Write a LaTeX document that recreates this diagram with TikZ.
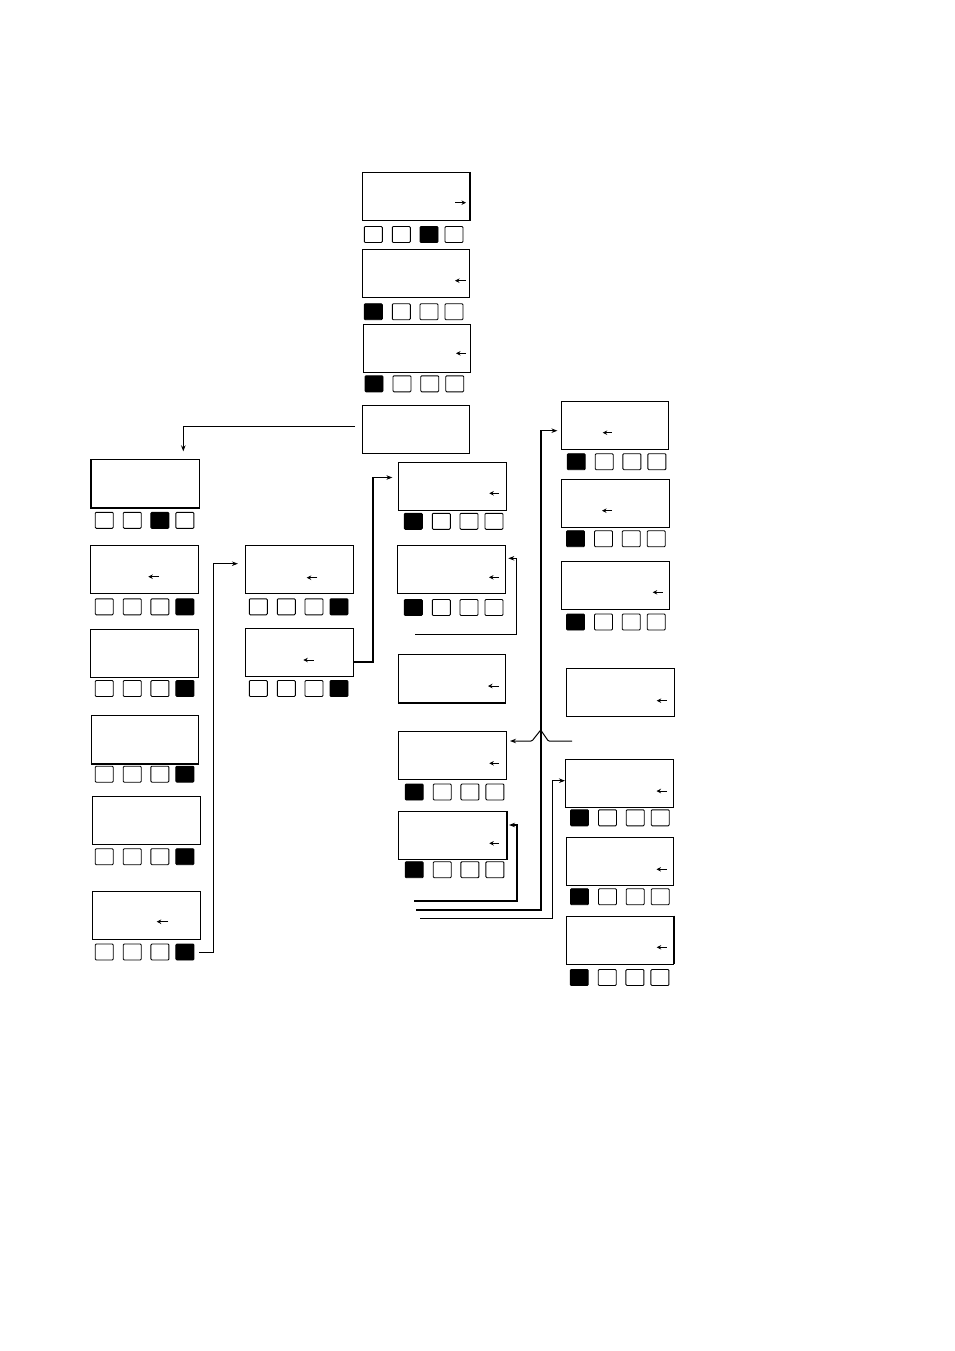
\documentclass[tikz,border=0pt]{standalone}
\usepackage{tikz}
\usetikzlibrary{arrows.meta}

\tikzset{
  screen/.style={draw,line width=0.9pt,minimum width=107.5pt,minimum height=48pt,inner sep=0pt},
  key/.style={draw,line width=0.9pt,rounded corners=1pt,minimum width=18pt,minimum height=16pt,inner sep=0pt},
  keyon/.style={key,fill=black},
  conn/.style={line width=1pt,-{Stealth[length=6pt,width=4.5pt]}},
  cursor/.style={line width=1pt,-{Stealth[length=4.5pt,width=4.5pt]}},
  heavy/.style={line width=1.8pt}
}
% row of four keys, #4 is the lit one
\newcommand{\keyrow}[4]{%
  \foreach \dx [count=\k] in {0,28,55.7,80.7}{
    \ifnum\k=#4 \node[keyon] (#1-\k) at ({#2+\dx},#3) {};
    \else \node[key] (#1-\k) at ({#2+\dx},#3) {};\fi
  }}

\begin{document}
\begin{tikzpicture}[x=1pt,y=-1pt,>=stealth]
  \useasboundingbox (0,0) rectangle (954,1351);

  % top column
  \node[screen] (a) at (416,196.3) {};
  \keyrow{a}{373.3}{234.5}{3}
  \draw[cursor] (455,202.7) -- (466,202.7);
  \node[screen] (b) at (416,273.9) {};
  \keyrow{b}{373.3}{311.7}{1}
  \draw[cursor] (466,280.7) -- (455,280.7);
  \node[screen] (c) at (417,348) {};
  \keyrow{c}{374}{383.8}{1}
  \draw[cursor] (466,353.3) -- (456,353.3);
  \node[screen] (d) at (416,429) {};

  % left column
  \node[screen] (l1) at (145.5,483.8) {};
  \keyrow{l1}{104.2}{520.3}{3}
  \node[screen] (l2) at (144.5,569.3) {};
  \keyrow{l2}{104.2}{606.8}{4}
  \draw[cursor] (159,576.7) -- (148.3,576.7);
  \node[screen] (l3) at (144.5,653) {};
  \keyrow{l3}{104.2}{688.5}{4}
  \node[screen] (l4) at (145,739.2) {};
  \keyrow{l4}{104.2}{774.2}{4}
  \node[screen] (l5) at (146.2,820.5) {};
  \keyrow{l5}{104.2}{856.7}{4}
  \node[screen] (l6) at (146.2,915.5) {};
  \keyrow{l6}{104.2}{952}{4}
  \draw[cursor] (168.3,921.7) -- (156.7,921.7);

  % middle column
  \node[screen] (m1) at (299.5,569.3) {};
  \keyrow{m1}{258.3}{606.8}{4}
  \draw[cursor] (317.3,577.7) -- (306.7,577.7);
  \node[screen] (m2) at (299.5,652.5) {};
  \keyrow{m2}{258.3}{688.5}{4}
  \draw[cursor] (313.5,660) -- (303.3,660);

  % next column
  \node[screen] (n1) at (452.2,486.5) {};
  \keyrow{n1}{413.3}{521.3}{1}
  \draw[cursor] (499,493.3) -- (489.3,493.3);
  \node[screen] (n2) at (451.5,569.5) {};
  \keyrow{n2}{413.3}{607.5}{1}
  \draw[cursor] (499,577.3) -- (489,577.3);
  \node[screen] (n3) at (452,678.7) {};
  \draw[cursor] (499,686) -- (488,686);
  \node[screen] (n4) at (452.5,755.5) {};
  \keyrow{n4}{414.2}{792}{1}
  \draw[cursor] (499,763.3) -- (489.3,763.3);
  \node[screen] (n5) at (452.5,835.2) {};
  \keyrow{n5}{414.2}{869.7}{1}
  \draw[cursor] (499,843.3) -- (489.3,843.3);

  % right column
  \node[screen] (r1) at (615,425.2) {};
  \keyrow{r1}{576.2}{461.7}{1}
  \draw[cursor] (611.7,432.7) -- (602.7,432.7);
  \node[screen] (r2) at (615.5,503.3) {};
  \keyrow{r2}{575.5}{538.7}{1}
  \draw[cursor] (612,510.7) -- (602,510.7);
  \node[screen] (r3) at (615.5,585.5) {};
  \keyrow{r3}{575.5}{622}{1}
  \draw[cursor] (662.7,592.3) -- (652.7,592.3);
  \node[screen] (r4) at (620.2,692.5) {};
  \draw[cursor] (666.7,700.7) -- (656.7,700.7);
  \node[screen] (r5) at (619.2,783.2) {};
  \keyrow{r5}{579.5}{817.8}{1}
  \draw[cursor] (667,791) -- (656.5,791);
  \node[screen] (r6) at (619.9,861.5) {};
  \keyrow{r6}{579.5}{896.7}{1}
  \draw[cursor] (667,869.3) -- (656.5,869.3);
  \node[screen] (r7) at (620,940) {};
  \keyrow{r7}{579.2}{977.5}{1}
  \draw[cursor] (666.7,947.3) -- (656.7,947.3);

  % heavier edges
  \draw[heavy] (a.north east) -- (a.south east);
  \draw[heavy] (l1.north west) -- (l1.south west) -- (l1.south east);
  \draw[heavy] (l4.south west) -- (l4.south east);
  \draw[heavy] (n1.north east) -- (n1.south east);
  \draw[heavy] (n3.south west) -- (n3.south east);
  \draw[heavy] (n5.north east) -- (n5.south east);
  \draw[heavy] (r4.north east) -- (r4.south east);
  \draw[heavy] (r7.north east) -- (r7.south east);

  % free ends
  \coordinate (f1) at (415,634);
  \coordinate (f2) at (414,900.7);
  \coordinate (f3) at (416,910);
  \coordinate (f4) at (420,918.3);
  \coordinate (f5) at (572,741);

  % connectors
  \draw[conn] ([xshift=-6.7,yshift=3]d.west) -| ([xshift=37.8,yshift=8]l1.north);
  \draw[conn] ([xshift=5]l6-4.east) -- ++(14.3,0) |- ([xshift=-7.4,yshift=5.6]m1.west);
  \draw[conn,line width=1.6pt] ([yshift=-9.2]m2.east) -- ++(19.2,0) |- ([xshift=-5.6,yshift=9]n1.west);
  \draw[conn] (f1) -- ++(101.7,0) |- ([xshift=2.6,yshift=11.2]n2.east);
  \draw[conn,line width=1.6pt] (f2) -- ++(102.7,0) |- ([xshift=2.3,yshift=10.2]n5.east);
  \draw[conn,line width=1.4pt] (f3) -- ++(125,0) |- ([xshift=-3.4,yshift=-5.5]r1.west);
  \draw[conn] (f4) -- ++(132.3,0) |- ([yshift=2.5]r5.west);
  \draw[conn,rounded corners=1pt] (f5) -- (548.3,741) -- (540.7,730) -- (532,741)
    -- ([xshift=3.3,yshift=14.5]n4.east);
\end{tikzpicture}
\end{document}
